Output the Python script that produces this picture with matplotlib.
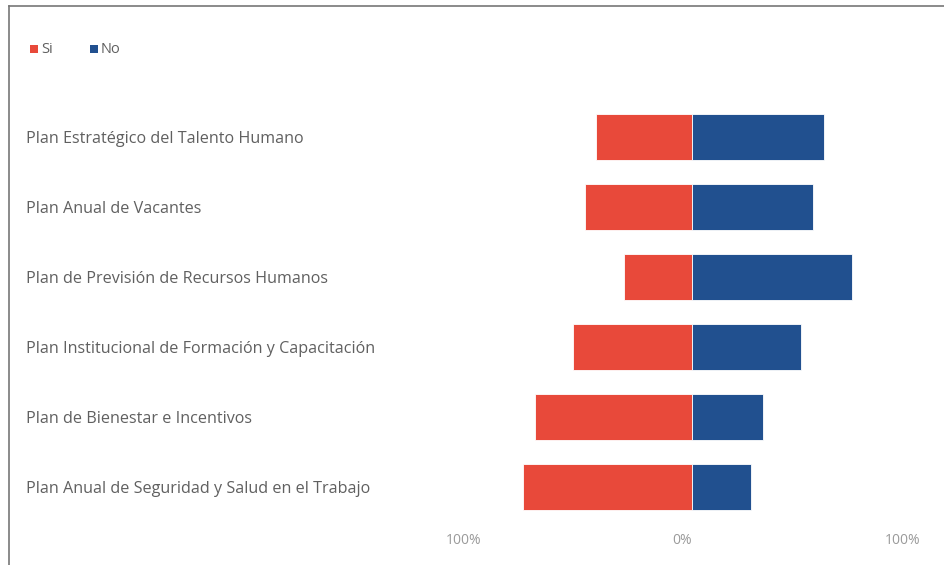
import matplotlib
matplotlib.use("Agg")
import matplotlib.pyplot as plt
from matplotlib.transforms import blended_transform_factory
from matplotlib.lines import Line2D
from matplotlib.patches import Rectangle

categories = [
    "Plan Estratégico del Talento Humano",
    "Plan Anual de Vacantes",
    "Plan de Previsión de Recursos Humanos",
    "Plan Institucional de Formación y Capacitación",
    "Plan de Bienestar e Incentivos",
    "Plan Anual de Seguridad y Salud en el Trabajo",
]
si_values = [42, 47, 30, 52, 69, 74]
no_values = [58, 53, 70, 48, 31, 26]
tick_values = [-100, 0, 100]
tick_labels = ["100%", "0%", "100%"]
series_names = ["Si", "No"]

RED = "#E8493A"
BLUE = "#21508F"
TEXT = "#606060"

plt.rcParams["font.family"] = ["Open Sans", "DejaVu Sans"]

W, H = 944, 565
fig = plt.figure(figsize=(W / 100, H / 100), dpi=100)
fig.patch.set_facecolor("white")

ax_left, ax_right = 464, 920
ax_top, ax_bottom = 102, 522
ax = fig.add_axes([ax_left / W, 1 - ax_bottom / H, (ax_right - ax_left) / W, (ax_bottom - ax_top) / H])

ypos = list(range(len(categories)))
ax.barh(ypos, [-v for v in si_values], height=0.66, color=RED, edgecolor="white", linewidth=0.6)
ax.barh(ypos, no_values, height=0.66, color=BLUE, edgecolor="white", linewidth=0.6)

ax.set_xlim(-100, 100)
ax.set_ylim(len(categories) - 0.5, -0.5)
ax.set_xticks(tick_values)
ax.set_xticklabels(tick_labels, color="#9a9a9a", fontsize=10)
for lbl, ha in zip(ax.get_xticklabels(), ["center", "right", "right"]):
    lbl.set_horizontalalignment(ha)
ax.tick_params(axis="x", length=0, pad=8)
ax.set_yticks([])
for s in ax.spines.values():
    s.set_visible(False)

tr = blended_transform_factory(fig.transFigure, ax.transData)
for i, c in enumerate(categories):
    ax.text(26 / W, i + 0.03, c, transform=tr, ha="left", va="center", fontsize=11.6, color=TEXT)

# legend
leg_items = [(30, RED, series_names[0]), (90, BLUE, series_names[1])]
for x, col, name in leg_items:
    fig.patches.append(Rectangle((x / W, 1 - 53 / H), 8 / W, 8 / H, transform=fig.transFigure,
                                 facecolor=col, edgecolor="none"))
    fig.text((x + 11) / W, 1 - 49.5 / H, name, ha="left", va="center", fontsize=10.5, color=TEXT)

# frame lines
fig.lines.append(Line2D([9 / W, 1], [1 - 6 / H, 1 - 6 / H], transform=fig.transFigure, color="#777777", linewidth=1.2))
fig.lines.append(Line2D([9 / W, 9 / W], [0, 1 - 6 / H], transform=fig.transFigure, color="#777777", linewidth=1.2))

fig.savefig("out.png", dpi=100, facecolor="white")
